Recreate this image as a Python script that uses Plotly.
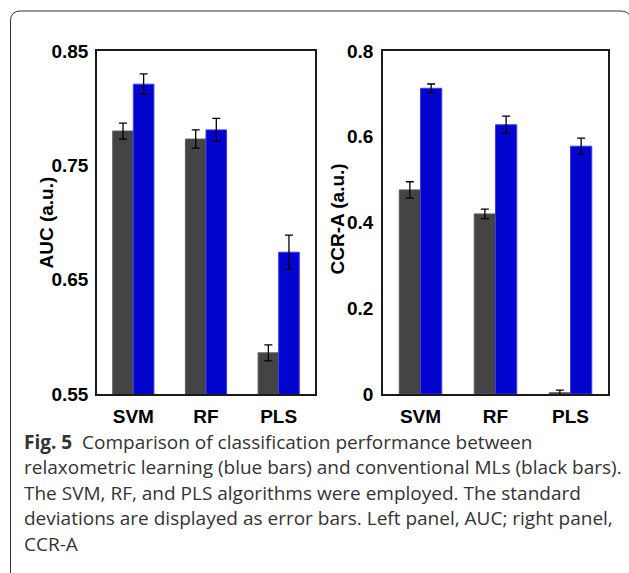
import plotly.graph_objects as go

# ---- data ----
algorithms = ["SVM", "RF", "PLS"]
auc_conventional = [0.780, 0.773, 0.586]
auc_conventional_sd = [0.007, 0.008, 0.007]
auc_relaxometric = [0.821, 0.781, 0.674]
auc_relaxometric_sd = [0.009, 0.010, 0.015]
ccr_conventional = [0.476, 0.420, 0.003]
ccr_conventional_sd = [0.019, 0.011, 0.006]
ccr_relaxometric = [0.713, 0.628, 0.578]
ccr_relaxometric_sd = [0.010, 0.020, 0.019]
auc_ticks = [0.55, 0.65, 0.75, 0.85]
auc_ticklabels = ["0.55", "0.65", "0.75", "0.85"]
ccr_ticks = [0, 0.2, 0.4, 0.6, 0.8]
ccr_ticklabels = ["0", "0.2", "0.4", "0.6", "0.8"]
caption_lines = [
    "<b>Fig. 5</b>  Comparison of classification performance between",
    "relaxometric learning (blue bars) and conventional MLs (black bars).",
    "The SVM, RF, and PLS algorithms were employed. The standard",
    "deviations are displayed as error bars. Left panel, AUC; right panel,",
    "CCR-A",
]

W, H = 629, 573
GRAY = "#444444"
GRAY_EDGE = "#5c5c5c"
BLUE = "#0404cf"
BLUE_EDGE = "#3b3bf0"

def px(x):
    return x / W

def py(y):
    return 1 - y / H

fig = go.Figure()

def add_pair(xa, ya, conv, conv_sd, rel, rel_sd):
    fig.add_trace(go.Bar(
        x=algorithms, y=conv, xaxis=xa, yaxis=ya, name="Conventional ML",
        marker=dict(color=GRAY, line=dict(color=GRAY_EDGE, width=1)),
        error_y=dict(type="data", array=conv_sd, color="black", thickness=1.3, width=4),
        showlegend=False,
    ))
    fig.add_trace(go.Bar(
        x=algorithms, y=rel, xaxis=xa, yaxis=ya, name="Relaxometric learning",
        marker=dict(color=BLUE, line=dict(color=BLUE_EDGE, width=1)),
        error_y=dict(type="data", array=rel_sd, color="black", thickness=1.3, width=4),
        showlegend=False,
    ))

add_pair("x", "y", auc_conventional, auc_conventional_sd, auc_relaxometric, auc_relaxometric_sd)
add_pair("x2", "y2", ccr_conventional, ccr_conventional_sd, ccr_relaxometric, ccr_relaxometric_sd)

tickfont = dict(family="Liberation Sans, Arial, sans-serif", size=19, color="black", weight="bold")
axis_common = dict(showline=True, linecolor="#1a1a1a", linewidth=1.5, mirror=True,
                   showgrid=False, zeroline=False, ticks="", tickfont=tickfont, automargin=False)

ydom = [py(394), py(51)]
fig.update_layout(
    template="none",
    width=W, height=H, autosize=False,
    margin=dict(l=0, r=0, t=0, b=0, pad=0, autoexpand=False),
    paper_bgcolor="white", plot_bgcolor="white",
    barmode="group", bargap=0.433, bargroupgap=0,
    xaxis=dict(domain=[px(97), px(315)], range=[-0.5, 2.5], ticklabelstandoff=4, **axis_common),
    yaxis=dict(domain=ydom, range=[0.55, 0.85], tickvals=auc_ticks, ticktext=auc_ticklabels,
               ticklabelstandoff=3, **axis_common),
    xaxis2=dict(domain=[px(383), px(608)], range=[-0.5, 2.5], anchor="y2", ticklabelstandoff=4, **axis_common),
    yaxis2=dict(domain=ydom, range=[0, 0.8], tickvals=ccr_ticks, ticktext=ccr_ticklabels, anchor="x2",
                ticklabelstandoff=4, **axis_common),
)

title_font = dict(family="Liberation Sans, Arial, sans-serif", size=19, color="black", weight="bold")
fig.add_annotation(text="AUC (a.u.)", x=px(46), y=py(222.5), xref="paper", yref="paper",
                   textangle=-90, showarrow=False, font=title_font, xanchor="center", yanchor="middle")
fig.add_annotation(text="CCR-A (a.u.)", x=px(337), y=py(219.5), xref="paper", yref="paper",
                   textangle=-90, showarrow=False, font=title_font, xanchor="center", yanchor="middle")

cap_font = dict(family="Open Sans, Noto Sans, sans-serif", size=19, color="#333333")
for i, line in enumerate(caption_lines):
    fig.add_annotation(text=line, x=px(22), y=py(441.5 + i * 25.6), xref="paper", yref="paper",
                       showarrow=False, font=cap_font, xanchor="left", yanchor="middle", align="left")

# outer rounded frame (open at the bottom)
r = 10
path = (f"M {px(10.5)},{py(575)} L {px(10.5)},{py(11 + r)} "
        f"Q {px(10.5)},{py(11)} {px(10.5 + r)},{py(11)} "
        f"L {px(620)},{py(11)} Q {px(628)},{py(11)} {px(630)},{py(16)}")
fig.add_shape(type="path", path=path, xref="paper", yref="paper",
              line=dict(color="#333333", width=1))

fig.write_html("out.html", config={"displayModeBar": False},
               post_script="document.body.style.margin='0';document.body.style.overflow='hidden';")
